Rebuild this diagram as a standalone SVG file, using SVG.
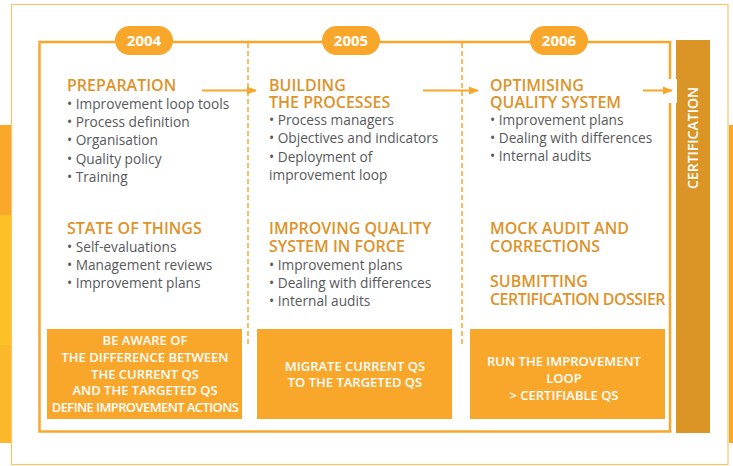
<svg xmlns="http://www.w3.org/2000/svg" width="733" height="466" viewBox="0 0 733 466">
<style>
.h{font-family:"Open Sans","Noto Sans",sans-serif;font-weight:600;font-size:16px;fill:#de932a}
.t{font-family:"Open Sans","Noto Sans",sans-serif;font-size:13.7px;fill:#58595b}
.w{font-family:"Open Sans","Noto Sans",sans-serif;font-weight:600;font-size:13px;fill:#ffffff;text-anchor:middle}
.yr{font-family:"Open Sans","Noto Sans",sans-serif;font-weight:700;font-size:15px;fill:#ffffff;text-anchor:middle}
.pill{fill:#f9a72b}
.box{fill:#f9a72b}
.dash{stroke:#f9a72b;stroke-width:1.5;stroke-dasharray:5 3;fill:none}
.arr{stroke:#f9a72b;stroke-width:2;fill:none;marker-end:url(#ah)}
</style>
<defs>
<marker id="ah" viewBox="0 0 10 10" refX="9" refY="5" markerWidth="5" markerHeight="5" orient="auto" markerUnits="strokeWidth">
<path d="M0,1 L10,5 L0,9 z" fill="#f9a72b"/>
</marker>
</defs>
<rect width="733" height="466" fill="#ffffff"/>
<g id="background">
<rect x="0" y="125" width="11" height="90" fill="#f9a829"/>
<rect x="0" y="215" width="11" height="130" fill="#fcc127"/>
<rect x="0" y="345" width="11" height="98" fill="#fbb82a"/>
<rect x="729" y="125" width="4" height="318" fill="#f9a829"/>
<rect x="11.5" y="4.5" width="716.5" height="460" fill="none" stroke="#fbc46a" stroke-width="1.2"/>
<rect x="39.5" y="42" width="630.5" height="389.5" fill="none" stroke="#f9a72b" stroke-width="2.5"/>
</g>
<g id="certification">
<rect x="676" y="40" width="34" height="393" fill="#da9526"/>
<rect x="660" y="79" width="17" height="24" fill="#ffffff"/>
<text class="yr" transform="translate(698,138) rotate(-90)" style="font-size:14px;font-weight:600">CERTIFICATION</text>
</g>
<g id="connectors">
<line class="dash" x1="248" y1="43" x2="248" y2="347"/>
<line class="dash" x1="462" y1="43" x2="462" y2="347"/>
<line class="arr" x1="202" y1="90.5" x2="256" y2="90.5"/>
<line class="arr" x1="423" y1="90.5" x2="478" y2="90.5"/>
<line class="arr" x1="643" y1="90.5" x2="672" y2="90.5"/>
</g>
<g id="year2004">
<rect class="pill" x="115" y="26" width="58" height="29" rx="14.5"/>
<text class="yr" x="144" y="46">2004</text>
</g>
<g id="year2005">
<rect class="pill" x="322" y="26" width="58" height="29" rx="14.5"/>
<text class="yr" x="351" y="46">2005</text>
</g>
<g id="year2006">
<rect class="pill" x="530" y="26" width="58" height="29" rx="14.5"/>
<text class="yr" x="559" y="46">2006</text>
</g>
<g id="col2004">
<text class="h" x="67" y="91">PREPARATION</text>
<text class="t" x="67"><tspan x="67" y="108.5">• Improvement loop tools</tspan><tspan x="67" y="127">• Process definition</tspan><tspan x="67" y="145">• Organisation</tspan><tspan x="67" y="163.5">• Quality policy</tspan><tspan x="67" y="182">• Training</tspan></text>
<text class="h" x="67" y="234">STATE OF THINGS</text>
<text class="t"><tspan x="67" y="252">• Self-evaluations</tspan><tspan x="67" y="270">• Management reviews</tspan><tspan x="67" y="288">• Improvement plans</tspan></text>
</g>
<g id="col2005">
<text class="h"><tspan x="269" y="91">BUILDING</tspan><tspan x="269" y="107.5">THE PROCESSES</tspan></text>
<text class="t"><tspan x="269" y="124.5">• Process managers</tspan><tspan x="269" y="142.5">• Objectives and indicators</tspan><tspan x="269" y="162">• Deployment of</tspan><tspan x="269" y="179.5">improvement loop</tspan></text>
<text class="h"><tspan x="269" y="234">IMPROVING QUALITY</tspan><tspan x="269" y="252">SYSTEM IN FORCE</tspan></text>
<text class="t"><tspan x="269" y="269.5">• Improvement plans</tspan><tspan x="269" y="287.5">• Dealing with differences</tspan><tspan x="269" y="306">• Internal audits</tspan></text>
</g>
<g id="col2006">
<text class="h"><tspan x="490" y="91">OPTIMISING</tspan><tspan x="490" y="107.5">QUALITY SYSTEM</tspan></text>
<text class="t"><tspan x="490" y="124.5">• Improvement plans</tspan><tspan x="490" y="142.5">• Dealing with differences</tspan><tspan x="490" y="161">• Internal audits</tspan></text>
<text class="h"><tspan x="490" y="234">MOCK AUDIT AND</tspan><tspan x="490" y="252">CORRECTIONS</tspan></text>
<text class="h"><tspan x="490" y="287">SUBMITTING</tspan><tspan x="490" y="305" letter-spacing="-0.55">CERTIFICATION DOSSIER</tspan></text>
</g>
<g id="box2004">
<rect class="box" x="47" y="329" width="195" height="90"/>
<text class="w"><tspan x="145" y="345">BE AWARE OF</tspan><tspan x="145" y="362">THE DIFFERENCE BETWEEN</tspan><tspan x="145" y="378.5">THE CURRENT QS</tspan><tspan x="145" y="395">AND THE TARGETED QS</tspan><tspan x="145" y="412" letter-spacing="-0.6">DEFINE IMPROVEMENT ACTIONS</tspan></text>
</g>
<g id="box2005">
<rect class="box" x="257" y="329" width="195" height="90"/>
<text class="w"><tspan x="355" y="370.5">MIGRATE CURRENT QS</tspan><tspan x="355" y="387">TO THE TARGETED QS</tspan></text>
</g>
<g id="box2006">
<rect class="box" x="470" y="329" width="195" height="90"/>
<text class="w"><tspan x="564" y="366">RUN THE IMPROVEMENT</tspan><tspan x="564" y="383">LOOP</tspan><tspan x="564" y="399.5">&gt; CERTIFIABLE QS</tspan></text>
</g>
</svg>
